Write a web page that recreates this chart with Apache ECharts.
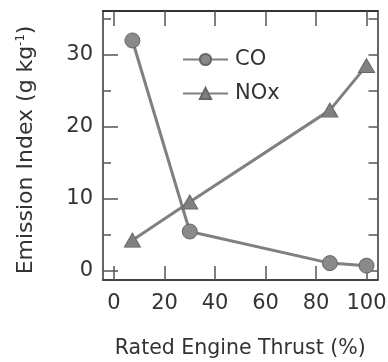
<!DOCTYPE html>
<html>
<head>
<meta charset="utf-8">
<script src="https://cdn.jsdelivr.net/npm/echarts@6/dist/echarts.min.js"></script>
<style>
html,body{margin:0;padding:0;background:#fff;}
#main{width:388px;height:362px;}
</style>
</head>
<body>
<div id="main"></div>
<script>
const thrust = [7.3, 30, 85.5, 100];
const coValues = [32.0, 5.4, 1.0, 0.65];
const noxValues = [4.2, 9.5, 22.3, 28.5];
const xTicks = [0, 20, 40, 60, 80, 100];
const yTicks = [0, 10, 20, 30];
const yMinorTicks = [5, 15, 25, 35];
const yRightTicks = [0, 5, 10, 15, 20, 25, 30, 35];

const FONT = 'DejaVu Sans';
const TXT = '#333';
const AX = '#555';

const chart = echarts.init(document.getElementById('main'), null, {renderer: 'canvas'});
const xMin = -4.35, xMax = 104.35, yMin = -1.35, yMax = 36.1;

chart.setOption({
  backgroundColor: '#fff',
  animation: false,
  textStyle: {fontFamily: FONT},
  grid: {left: 103, right: 10.5, top: 11, bottom: 82, outerBoundsMode: 'none'},
  legend: {
    orient: 'vertical', left: 177, top: 44, itemWidth: 45, itemHeight: 14, itemGap: 13,
    data: ['CO', 'NOx'],
    textStyle: {fontFamily: FONT, fontSize: 21, color: TXT, padding: [0, 0, 0, 2]}
  },
  xAxis: [
    {
      type: 'value', position: 'bottom', min: xMin, max: xMax,
      name: 'Rated Engine Thrust (%)', nameLocation: 'middle', nameGap: 58,
      nameTextStyle: {fontFamily: FONT, fontSize: 20.5, color: TXT},
      axisLine: {show: true, onZero: false, lineStyle: {color: '#444', width: 2}},
      axisTick: {show: true, inside: true, length: 14, customValues: xTicks, lineStyle: {color: AX, width: 1.5}},
      axisLabel: {show: true, customValues: xTicks, margin: 13, fontFamily: FONT, fontSize: 21, color: TXT},
      splitLine: {show: false}
    },
    {
      type: 'value', position: 'top', min: xMin, max: xMax,
      axisLine: {show: true, onZero: false, lineStyle: {color: '#333', width: 2}},
      axisTick: {show: true, inside: true, length: 15, customValues: xTicks, lineStyle: {color: AX, width: 1.5}},
      axisLabel: {show: false},
      splitLine: {show: false}
    }
  ],
  yAxis: [
    {
      type: 'value', position: 'left', min: yMin, max: yMax,
      name: 'Emission Index (g kg{sup|-1})', nameLocation: 'middle', nameGap: 66,
      nameTextStyle: {
        fontFamily: FONT, fontSize: 22, color: TXT, verticalAlign: 'bottom', padding: [0, 9, 0, 0],
        rich: {sup: {fontFamily: FONT, fontSize: 11.5, lineHeight: 11, color: TXT, verticalAlign: 'top', padding: [0, 0, 18, 0]}}
      },
      axisLine: {show: true, onZero: false, lineStyle: {color: '#666', width: 2}},
      axisTick: {show: true, inside: true, length: 15, customValues: yTicks, lineStyle: {color: AX, width: 1.5}},
      axisLabel: {show: true, customValues: yTicks, margin: 10, fontFamily: FONT, fontSize: 21, color: TXT},
      splitLine: {show: false}
    },
    {
      type: 'value', position: 'left', min: yMin, max: yMax,
      axisLine: {show: false, onZero: false},
      axisTick: {show: true, inside: true, length: 8, customValues: yMinorTicks, lineStyle: {color: AX, width: 1.5}},
      axisLabel: {show: false},
      splitLine: {show: false}
    },
    {
      type: 'value', position: 'right', min: yMin, max: yMax,
      axisLine: {show: true, onZero: false, lineStyle: {color: '#666', width: 2}},
      axisTick: {show: true, inside: true, length: 9, customValues: yRightTicks, lineStyle: {color: AX, width: 1.5}},
      axisLabel: {show: false},
      splitLine: {show: false}
    }
  ],
  series: [
    {
      name: 'CO', type: 'line', xAxisIndex: 0, yAxisIndex: 0,
      data: thrust.map((x, i) => [x, coValues[i]]),
      symbol: 'circle', symbolSize: 15,
      lineStyle: {color: '#808080', width: 3},
      itemStyle: {color: '#8a8a8a', borderColor: '#666', borderWidth: 1},
      z: 3
    },
    {
      name: 'NOx', type: 'line', xAxisIndex: 0, yAxisIndex: 0,
      data: thrust.map((x, i) => [x, noxValues[i]]),
      symbol: 'triangle', symbolSize: [16, 14],
      lineStyle: {color: '#808080', width: 3},
      itemStyle: {color: '#808080', borderColor: '#666', borderWidth: 1},
      z: 4
    }
  ]
});
</script>
</body>
</html>
